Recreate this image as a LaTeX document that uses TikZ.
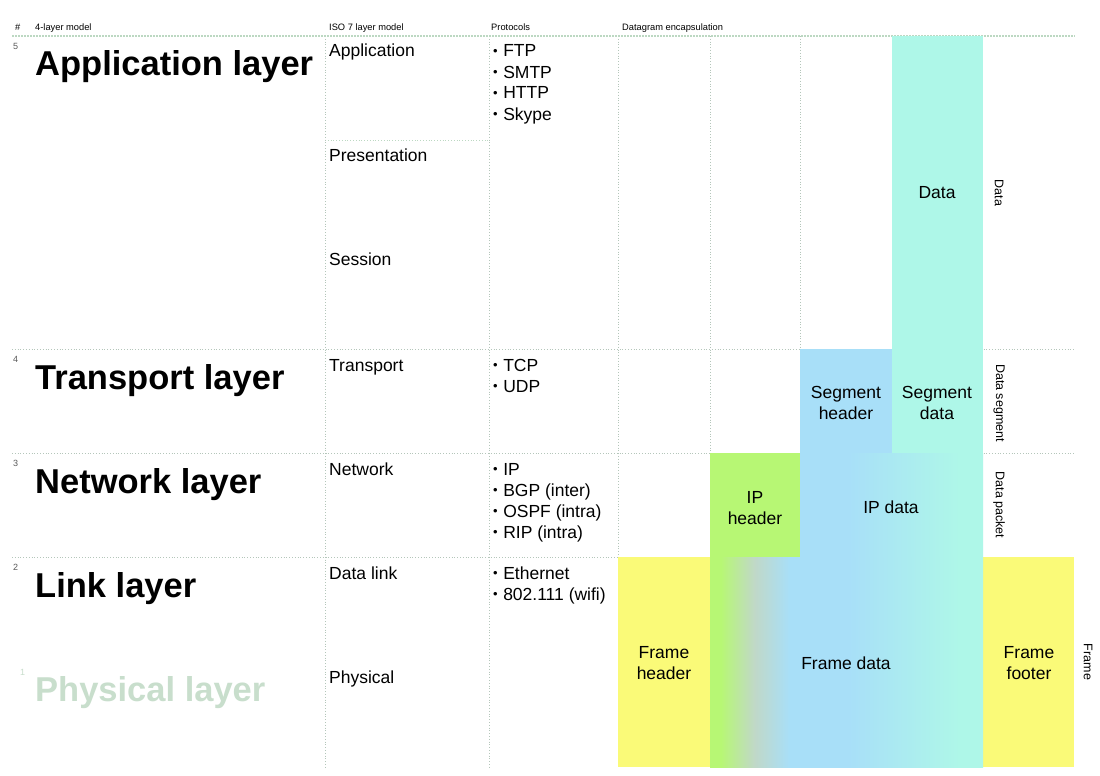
\documentclass[tikz,border=0pt]{standalone}
\usepackage{fontspec}
\setmainfont{Liberation Sans}
\definecolor{cyanbox}{RGB}{174,247,232}
\definecolor{bluebox}{RGB}{168,223,248}
\definecolor{greenbox}{RGB}{183,247,116}
\definecolor{yellowbox}{RGB}{250,250,120}
\definecolor{graymid}{RGB}{192,216,200}
\definecolor{gridc}{RGB}{180,198,186}
\definecolor{topc}{RGB}{188,216,194}
\definecolor{physc}{RGB}{200,222,204}
\definecolor{numc}{RGB}{90,90,90}
\pgfdeclarehorizontalshading{framedatashade}{100bp}{color(0bp)=(greenbox); color(27bp)=(greenbox); color(33.2bp)=(graymid); color(39.6bp)=(bluebox); color(50.3bp)=(bluebox); color(70.8bp)=(cyanbox); color(100bp)=(cyanbox)}
\pgfdeclarehorizontalshading{ipdatashade}{100bp}{color(0bp)=(bluebox); color(38.1bp)=(bluebox); color(68.7bp)=(cyanbox); color(100bp)=(cyanbox)}
\newcommand{\bul}[1]{{\fontsize{13}{13}\selectfont\raisebox{1.2pt}{•}}\hspace{5.5pt}#1}
\tikzset{
  hdr/.style={anchor=base west,inner sep=0pt,font=\fontsize{9.3}{11}\selectfont},
  big/.style={anchor=base west,inner sep=0pt,font=\fontsize{34.5}{40}\selectfont\bfseries},
  iso/.style={anchor=base west,inner sep=0pt,font=\fontsize{17.5}{21}\selectfont},
  num/.style={anchor=base west,inner sep=0pt,text=numc,font=\fontsize{9}{10}\selectfont},
  boxlbl/.style={align=center,inner sep=0pt,font=\fontsize{17.5}{21}\selectfont},
  side/.style={rotate=-90,inner sep=0pt,font=\fontsize{12.5}{14}\selectfont},
  gridline/.style={draw=gridc,dotted,line width=0.8pt},
  topline/.style={draw=topc,dash pattern=on 2pt off 1pt,line width=1.6pt},
}
\begin{document}
\begin{tikzpicture}[x=1pt,y=-1pt]
\useasboundingbox (0,0) rectangle (1100,776);
\fill[white] (0,0) rectangle (1100,776);
% grid
\coordinate (t1) at (12,36);   \coordinate (t2) at (1075,36);
\coordinate (r4a) at (12,349); \coordinate (r4b) at (1075,349);
\coordinate (r3a) at (12,453); \coordinate (r3b) at (1075,453);
\coordinate (r2a) at (12,557); \coordinate (r2b) at (1075,557);
\coordinate (pa) at (325,140); \coordinate (pb) at (489,140);
\coordinate (v1a) at (325,36); \coordinate (v1b) at (325,767);
\coordinate (v2a) at (489,36); \coordinate (v2b) at (489,767);
\coordinate (v3a) at (618,36); \coordinate (v3b) at (618,557);
\coordinate (v4a) at (710,36); \coordinate (v4b) at (710,453);
\coordinate (v5a) at (800,36); \coordinate (v5b) at (800,349);
\draw[gridline] (r4a) -- (r4b);
\draw[gridline] (r3a) -- (r3b);
\draw[gridline] (r2a) -- (r2b);
\draw[gridline,draw=topc] (pa) -- (pb);
\draw[gridline] (v1a) -- (v1b);
\draw[gridline] (v2a) -- (v2b);
\draw[gridline] (v3a) -- (v3b);
\draw[gridline] (v4a) -- (v4b);
\draw[gridline] (v5a) -- (v5b);
\draw[topline] (t1) -- (t2);
% boxes
\fill[cyanbox] (892,36) rectangle (983,453);
\fill[bluebox] (800,349) rectangle (892,453.5);
\fill[greenbox] (710,453) rectangle (800,557.5);
\shade[shading=ipdatashade] (800,453) rectangle (983,557.5);
\fill[yellowbox] (618,557) rectangle (710,767);
\fill[yellowbox] (983,557) rectangle (1074,767);
\shade[shading=framedatashade] (710,557) rectangle (983,767);
% header
\node[hdr] (hnum) at (15,31) {\#};
\node[hdr] (h4) at (35,31) {4-layer model};
\node[hdr] (hiso) at (329,31) {ISO 7 layer model};
\node[hdr] (hproto) at (491,31) {Protocols};
\node[hdr] (henc) at (622,31) {Datagram encapsulation};
% numbers
\node[num] (n5) at (13,50) {5};
\node[num] (n4) at (13,362) {4};
\node[num] (n3) at (13,466) {3};
\node[num] (n2) at (13,570) {2};
\node[num,text=physc] (n1) at (20,675) {1};
% 4-layer
\node[big] (app) at (35,76) {Application layer};
\node[big] (trans) at (35,389) {Transport layer};
\node[big] (net) at (35,493) {Network layer};
\node[big] (link) at (35,597) {Link layer};
\node[big,text=physc] (phys) at (35,701) {Physical layer};
% ISO
\node[iso] (iapp) at (329,57) {Application};
\node[iso] (ipres) at (329,161) {Presentation};
\node[iso] (isess) at (329,265) {Session};
\node[iso] (itrans) at (329,371) {Transport};
\node[iso] (inet) at (329,475) {Network};
\node[iso] (idl) at (329,579) {Data link};
\node[iso] (iphys) at (329,683) {Physical};
% protocols
\node[iso] (p1) at (493,57) {\bul{FTP}};
\node[iso] (p2) at (493,78) {\bul{SMTP}};
\node[iso] (p3) at (493,99) {\bul{HTTP}};
\node[iso] (p4) at (493,120) {\bul{Skype}};
\node[iso] (p5) at (493,371) {\bul{TCP}};
\node[iso] (p6) at (493,392) {\bul{UDP}};
\node[iso] (p7) at (493,475) {\bul{IP}};
\node[iso] (p8) at (493,496) {\bul{BGP (inter)}};
\node[iso] (p9) at (493,517) {\bul{OSPF (intra)}};
\node[iso] (p10) at (493,538) {\bul{RIP (intra)}};
\node[iso] (p11) at (493,579) {\bul{Ethernet}};
\node[iso] (p12) at (493,600) {\bul{802.111 (wifi)}};
% box labels
\node[boxlbl] (bdata) at (937,193) {Data};
\node[boxlbl] (bsegh) at (846,403) {Segment\\header};
\node[boxlbl] (bsegd) at (937,403) {Segment\\data};
\node[boxlbl] (biph) at (755,508) {IP\\header};
\node[boxlbl] (bipd) at (891,507) {IP data};
\node[boxlbl] (bfh) at (664,663) {Frame\\header};
\node[boxlbl] (bfd) at (846,663) {Frame data};
\node[boxlbl] (bff) at (1029,663) {Frame\\footer};
% side labels
\node[side] (sdata) at (999,193) {Data};
\node[side] (sseg) at (999,403) {Data segment};
\node[side] (spack) at (999,505) {Data packet};
\node[side] (sframe) at (1088,662) {Frame};
\end{tikzpicture}
\end{document}
